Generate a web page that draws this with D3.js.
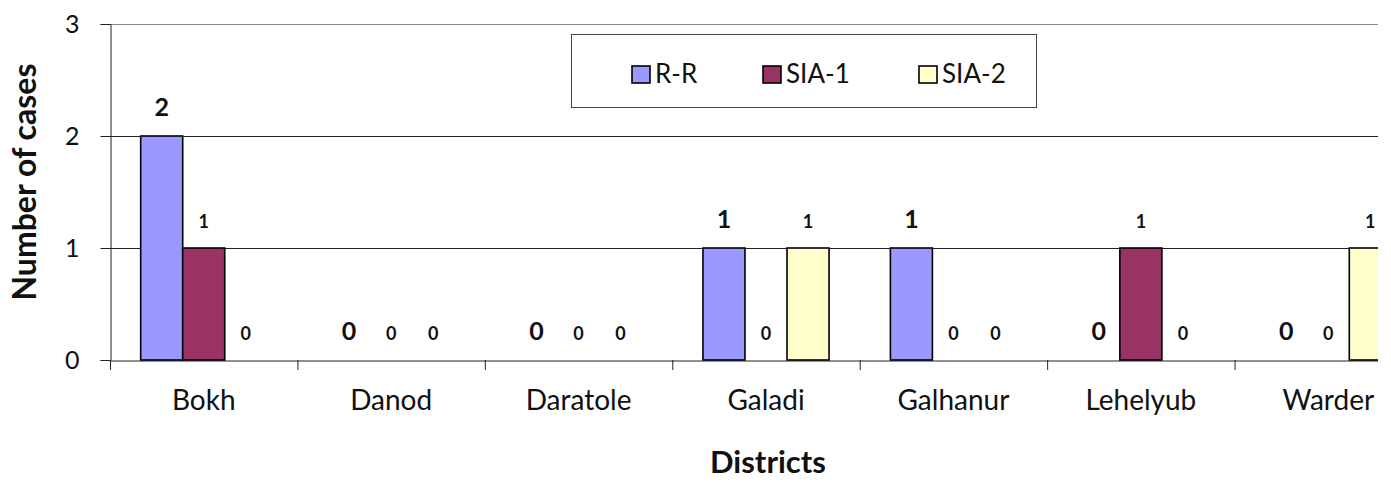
<!DOCTYPE html>
<html>
<head>
<meta charset="utf-8">
<script src="https://cdn.jsdelivr.net/npm/d3@7"></script>
<style>
  body { margin: 0; background: #fff; }
  svg { font-family: Lato, "Open Sans", sans-serif; display: block; }
</style>
</head>
<body>
<svg id="chart" width="1378" height="482"></svg>
<script>
const districts = ["Bokh", "Danod", "Daratole", "Galadi", "Galhanur", "Lehelyub", "Warder"];
const seriesNames = ["R-R", "SIA-1", "SIA-2"];
const rrValues = [2, 0, 0, 1, 1, 0, 0];
const sia1Values = [1, 0, 0, 0, 0, 1, 0];
const sia2Values = [0, 0, 0, 1, 0, 0, 1];
const yTicks = [0, 1, 2, 3];

const svg = d3.select("#chart");

const margin = { top: 24, left: 110, bottom: 122 };
const plotRight = 1422; // the plot runs past the picture edge and is clipped
const plotBottom = 482 - margin.bottom;
const fontStack = "Lato, 'Open Sans', sans-serif";

const color = d3.scaleOrdinal()
  .domain(seriesNames)
  .range(["#9999ff", "#993366", "#ffffcc"]);

const rows = districts.map((d, i) => ({
  district: d,
  values: [rrValues[i], sia1Values[i], sia2Values[i]]
}));

const x0 = d3.scaleBand()
  .domain(districts)
  .range([margin.left, plotRight]);

const x1 = d3.scaleBand()
  .domain(seriesNames)
  .range([0, x0.bandwidth()])
  .paddingOuter(0.73);

const y = d3.scaleLinear()
  .domain([0, 3])
  .range([plotBottom, margin.top]);

// gridlines
svg.append("g")
  .selectAll("line")
  .data(yTicks.filter(t => t > 0))
  .enter()
  .append("line")
  .attr("x1", margin.left)
  .attr("x2", plotRight)
  .attr("y1", d => y(d) + 0.5)
  .attr("y2", d => y(d) + 0.5)
  .attr("stroke", d => d === 3 ? "#888" : "#222")
  .attr("stroke-width", 1);

// y axis
const yAxis = svg.append("g")
  .attr("transform", `translate(${margin.left + 0.5},0)`)
  .call(d3.axisLeft(y).tickValues(yTicks).tickSize(10).tickPadding(21).tickFormat(d3.format("d")));
yAxis.select(".domain").attr("stroke", "#222");
yAxis.selectAll(".tick line").attr("stroke", "#222");
yAxis.selectAll("text")
  .attr("font-size", "25px")
  .attr("fill", "#111")
  .attr("font-family", fontStack);

// x axis
const xAxis = svg.append("g")
  .attr("transform", `translate(0,${plotBottom + 0.5})`)
  .call(d3.axisBottom(x0).tickSize(0));
xAxis.select(".domain").attr("stroke", "#222");
xAxis.selectAll("text")
  .attr("y", 49)
  .attr("dy", 0)
  .attr("font-size", "28px")
  .attr("fill", "#111")
  .attr("font-family", fontStack);

// category boundary ticks
svg.append("g")
  .selectAll("line")
  .data(districts)
  .enter()
  .append("line")
  .attr("x1", d => x0(d) + 0.5)
  .attr("x2", d => x0(d) + 0.5)
  .attr("y1", plotBottom)
  .attr("y2", plotBottom + 10)
  .attr("stroke", "#222");

// bars
const groups = svg.append("g")
  .selectAll("g")
  .data(rows)
  .enter()
  .append("g")
  .attr("transform", d => `translate(${x0(d.district)},0)`);

groups.selectAll("rect")
  .data(d => d.values.map((v, i) => ({ key: seriesNames[i], value: v })))
  .enter()
  .filter(d => d.value > 0)
  .append("rect")
  .attr("x", d => x1(d.key))
  .attr("y", d => y(d.value))
  .attr("width", x1.bandwidth())
  .attr("height", d => y(0) - y(d.value))
  .attr("fill", d => color(d.key))
  .attr("stroke", "#000")
  .attr("stroke-width", 1.6);

// value labels: R-R ones are set larger, as in the original
groups.selectAll("text")
  .data(d => d.values.map((v, i) => ({ key: seriesNames[i], value: v })))
  .enter()
  .append("text")
  .attr("x", d => x1(d.key) + x1.bandwidth() / 2)
  .attr("y", d => y(d.value) - 20)
  .attr("text-anchor", "middle")
  .attr("font-weight", "bold")
  .attr("font-size", d => d.key === "R-R" ? "25px" : "18px")
  .attr("fill", "#111")
  .text(d => d.value);

// legend
const legend = svg.append("g").attr("transform", "translate(571,34)");
legend.append("rect")
  .attr("x", 0.5)
  .attr("y", 0.5)
  .attr("width", 465)
  .attr("height", 73)
  .attr("fill", "#fff")
  .attr("stroke", "#444");

const legendX = [61, 192, 348];
legend.selectAll("g.item")
  .data(seriesNames)
  .enter()
  .append("g")
  .attr("class", "item")
  .attr("transform", (d, i) => `translate(${legendX[i]},32)`)
  .each(function (d) {
    const item = d3.select(this);
    item.append("rect")
      .attr("width", 18)
      .attr("height", 17)
      .attr("fill", color(d))
      .attr("stroke", "#000")
      .attr("stroke-width", 1.6);
    item.append("text")
      .attr("x", 23)
      .attr("y", 17)
      .attr("font-size", "26px")
      .attr("fill", "#111")
      .text(d);
  });

// axis titles
svg.append("text")
  .attr("transform", "rotate(-90)")
  .attr("x", -182)
  .attr("y", 36)
  .attr("text-anchor", "middle")
  .attr("font-size", "32px")
  .attr("font-weight", "bold")
  .attr("fill", "#111")
  .text("Number of cases");

svg.append("text")
  .attr("x", 768)
  .attr("y", 473)
  .attr("text-anchor", "middle")
  .attr("font-size", "31px")
  .attr("font-weight", "bold")
  .attr("fill", "#111")
  .text("Districts");
</script>
</body>
</html>
